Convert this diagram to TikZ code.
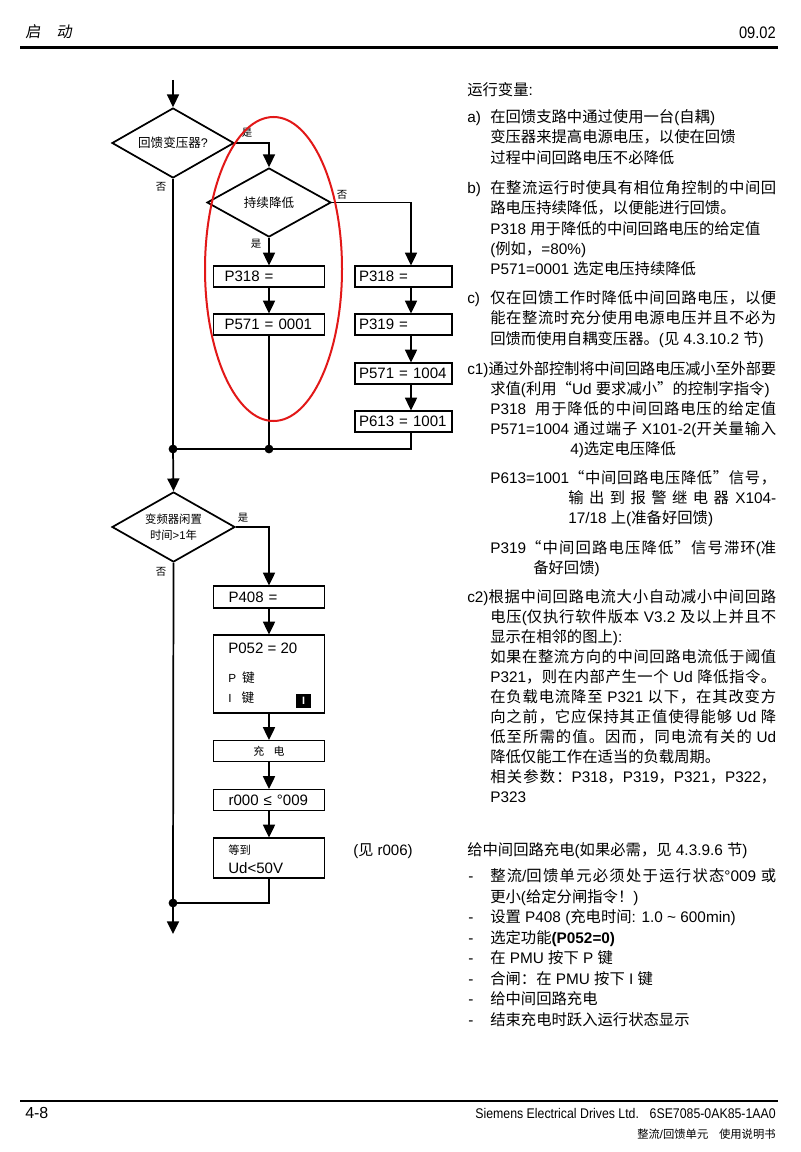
\documentclass[tikz,border=0pt]{standalone}
\usepackage{fontspec}
\setmainfont{Liberation Sans}
\newfontfamily\cjkfont{Noto Sans CJK SC}
\newfontfamily\cjkslantfont[FakeSlant=0.15]{Noto Sans CJK SC}
\newfontfamily\narrowfont[FakeStretch=0.88]{Liberation Sans}
\usetikzlibrary{arrows.meta,shapes.geometric}
\definecolor{ellred}{RGB}{226,24,24}

% automatic switching between Latin and CJK fonts
\newcommand\latinfont{\rmfamily}
\newcommand\cjkglue{\hskip 0pt plus 4pt minus 0.6pt\relax}
\XeTeXinterchartokenstate=1
\chardef\cjkcls=7
\newcount\cjkcnt
\cjkcnt=0
\loop\ifnum\cjkcnt<"2E80 \XeTeXcharclass\cjkcnt=0 \advance\cjkcnt by 1 \repeat
\cjkcnt="2E80
\loop\ifnum\cjkcnt<"A000 \XeTeXcharclass\cjkcnt=\cjkcls \advance\cjkcnt by 1 \repeat
\cjkcnt="FF00
\loop\ifnum\cjkcnt<"FFF0 \XeTeXcharclass\cjkcnt=\cjkcls \advance\cjkcnt by 1 \repeat
\XeTeXcharclass"201C=\cjkcls
\XeTeXcharclass"201D=\cjkcls
\XeTeXinterchartoks 0 \cjkcls={\cjkfont}
\XeTeXinterchartoks 4095 \cjkcls={\cjkfont}
\XeTeXinterchartoks \cjkcls 0={\latinfont}
\XeTeXinterchartoks \cjkcls 4095={\latinfont}
\XeTeXinterchartoks \cjkcls \cjkcls={\cjkglue}

\newcount\tcnt
\newcommand\rtxt[3]{\global\advance\tcnt by 1 \node[txt] (t\the\tcnt) at (#1,#2) {#3};}
\newcommand\rjus[3]{\global\advance\tcnt by 1 \node[txt] (t\the\tcnt) at (#1,#2) {\makebox[\dimexpr 0.75pt*(776-#1)\relax][s]{#3}};}

\begin{document}
\begin{tikzpicture}[x=0.75pt,y=-0.75pt,
  conn/.style={line width=1.3pt},
  arr/.style={line width=1.3pt,-{Triangle[length=9.5pt,width=9pt]}},
  pbox/.style={draw,line width=0.9pt,inner ysep=0pt,align=left,minimum height=15.75pt,font=\fontsize{11.3pt}{13pt}\selectfont},
  lbox/.style={pbox,text width=66.75pt,inner xsep=8.25pt},
  rbox/.style={pbox,text width=66.75pt,inner xsep=3pt},
  dbox/.style={pbox,text width=60.75pt,inner xsep=11.25pt},
  ebox/.style={draw,line width=0.9pt,minimum width=83.25pt,inner sep=0pt},
  dia/.style={draw,diamond,line width=1.3pt,inner sep=0pt,aspect=1.74,align=center},
  yn/.style={inner sep=0pt,font=\fontsize{7.8pt}{8pt}\selectfont},
  txt/.style={inner sep=0pt,anchor=base west,font=\fontsize{11.5pt}{13pt}\selectfont},
  dot/.style={fill=black},
]
\fill[white] (0,0) rectangle (800,1152);
\useasboundingbox (0,0) rectangle (800,1152);

% header
\node[anchor=base west,inner sep=0pt,font=\fontsize{11.5pt}{12pt}\selectfont] (hdl) at (25,38) {\let\cjkfont\cjkslantfont 启\hspace{12pt}动};
\node[anchor=base east,inner sep=0pt,font=\narrowfont\fontsize{12.5pt}{13pt}\selectfont] (hdr) at (776,38.5) {09.02};
\draw[line width=2pt] (20,47.5) -- (778,47.5);

% flowchart
\coordinate (start) at (173,80);
\node[dia,minimum width=91.5pt,minimum height=52.5pt,font=\fontsize{9.4pt}{11pt}\selectfont] (d1) at (173,143) {回馈变压器?};
\node[dia,minimum width=93pt,minimum height=51.75pt,font=\fontsize{9.4pt}{11pt}\selectfont] (d2) at (269,202.5) {持续降低};
\node[lbox] (lb1) at (269,276.5) {P318 =};
\node[lbox] (lb2) at (269,324.5) {P571 = 0001};
\node[rbox] (rb1) at (403.5,276.5) {P318 =};
\node[rbox] (rb2) at (403.5,324.5) {P319 =};
\node[rbox] (rb3) at (403.5,373.5) {P571 = 1004};
\node[rbox] (rb4) at (403.5,421.5) {P613 = 1001};
\coordinate (rx) at (411,0);
\coordinate (j1) at (173,449);
\coordinate (j2) at (269,449);

\draw[arr] (start) -- (d1.north);
\draw[arr] (d1.east) -| (d2.north);
\draw[arr] (d2.east) -| (rx |- rb1.north);
\draw[arr] (d2.south) -- (lb1.north);
\draw[arr] (lb1.south) -- (lb2.north);
\draw[arr] (rx |- rb1.south) -- (rx |- rb2.north);
\draw[arr] (rx |- rb2.south) -- (rx |- rb3.north);
\draw[arr] (rx |- rb3.south) -- (rx |- rb4.north);
\draw[conn] (rx |- rb4.south) |- (j1);
\draw[conn] (lb2.south) -- (j2);
\draw[conn] (d1.south) -- (j1);

\node[yn] (y1) at (247,133) {是};
\node[yn] (n1) at (161,187) {否};
\node[yn] (n2) at (342,195) {否};
\node[yn] (y2) at (256,244) {是};

\node[dia,minimum width=92.25pt,minimum height=52.5pt,font=\fontsize{8.5pt}{12pt}\selectfont] (d3) at (173.5,527) {变频器闲置\\时间>1年};
\draw[arr] (j1) -- (d3.north);
\node[yn] (y3) at (243,518) {是};
\node[yn] (n3) at (161,572) {否};

\node[dbox,minimum height=16.5pt] (p408) at (269,597) {P408 =};
\node[ebox,minimum height=58.5pt] (p052) at (269,674) {};
\node[txt,font=\fontsize{11.3pt}{13pt}\selectfont] (p052t) at (228,653) {P052 = 20};
\node[txt,font=\fontsize{8.8pt}{10pt}\selectfont] (pkey) at (228,682) {P\hspace{4.5pt}{\fontsize{9.5pt}{10pt}\selectfont 键}};
\node[txt,font=\fontsize{8.8pt}{10pt}\selectfont] (ikeyt) at (228,702) {I\hspace{7.5pt}{\fontsize{9.5pt}{10pt}\selectfont 键}};
\node[fill=black,minimum width=11.25pt,minimum height=10.5pt,inner sep=0pt,text=white,font=\bfseries\fontsize{8pt}{8pt}\selectfont] (ikey) at (303.5,701) {I};
\node[pbox,minimum width=83.25pt,text width=83.25pt,inner xsep=0pt,align=center,font=\fontsize{8.2pt}{10pt}\selectfont] (chg) at (269,751) {充\hspace{7pt}电};
\node[dbox] (r000) at (269,800) {r000 ≤ °009};
\node[ebox,minimum height=30pt] (wait) at (269,858) {};
\node[txt,font=\fontsize{8.5pt}{10pt}\selectfont] (waitt1) at (228,854) {等到};
\node[txt,font=\fontsize{11.3pt}{13pt}\selectfont] (waitt2) at (228,873.5) {Ud<50V};
\node[txt,font=\fontsize{11.3pt}{13pt}\selectfont] (see) at (353,855) {(见 r006)};

\coordinate (j3) at (173,903);
\coordinate (endc) at (173,934);
\draw[arr] (d3.east) -| (p408.north);
\draw[arr] (p408.south) -- (p052.north);
\draw[arr] (p052.south) -- (chg.north);
\draw[arr] (chg.south) -- (r000.north);
\draw[arr] (r000.south) -- (wait.north);
\draw[conn] (wait.south) |- (j3);
\draw[conn] (d3.south) -- (j3);
\draw[arr] (j3) -- (endc);

\fill[dot] (j1) circle [radius=3.3pt];
\fill[dot] (j2) circle [radius=3.3pt];
\fill[dot] (j3) circle [radius=3.3pt];

\draw[line width=1.5pt,ellred] (273.5,269) ellipse [x radius=68.5, y radius=152];

% right column text
\rtxt{467}{96}{运行变量:}
\rtxt{467}{123}{a)}
\rtxt{490}{123}{在回馈支路中通过使用一台(自耦)}
\rtxt{490}{143}{变压器来提高电源电压，以使在回馈}
\rtxt{490}{163}{过程中间回路电压不必降低}
\rtxt{467}{193}{b)}
\rjus{490}{193}{在整流运行时使具有相位角控制的中间回}
\rtxt{490}{213}{路电压持续降低，以便能进行回馈。}
\rtxt{490}{234}{P318 用于降低的中间回路电压的给定值}
\rtxt{490}{254}{(例如，=80\%)}
\rtxt{490}{274}{P571=0001 选定电压持续降低}
\rtxt{467}{303}{c)}
\rjus{490}{303}{仅在回馈工作时降低中间回路电压，以便}
\rjus{490}{323}{能在整流时充分使用电源电压并且不必为}
\rtxt{490}{344}{回馈而使用自耦变压器。(见 4.3.10.2 节)}
\rjus{467}{374}{c1)通过外部控制将中间回路电压减小至外部要}
\rtxt{490}{394}{求值(利用“Ud 要求减小”的控制字指令)}
\rjus{490}{414}{P318\ \ 用于降低的中间回路电压的给定值}
\rjus{490}{434}{P571=1004 通过端子 X101-2(开关量输入}
\rtxt{570}{454}{4)选定电压降低}
\rjus{490}{483}{P613=1001“中间回路电压降低”信号，}
\rjus{568}{503}{输出到报警继电器 X104-}
\rtxt{568}{523}{17/18 上(准备好回馈)}
\rjus{490}{553}{P319“中间回路电压降低”信号滞环(准}
\rtxt{533}{573}{备好回馈)}
\rjus{467}{602}{c2)根据中间回路电流大小自动减小中间回路}
\rjus{490}{622}{电压(仅执行软件版本 V3.2 及以上并且不}
\rtxt{490}{642}{显示在相邻的图上):}
\rjus{490}{662}{如果在整流方向的中间回路电流低于阈值}
\rjus{490}{682}{P321，则在内部产生一个 Ud 降低指令。}
\rjus{490}{702}{在负载电流降至 P321 以下，在其改变方}
\rjus{490}{722}{向之前，它应保持其正值使得能够 Ud 降}
\rjus{490}{742}{低至所需的值。因而，同电流有关的 Ud}
\rtxt{490}{762}{降低仅能工作在适当的负载周期。}
\rjus{490}{782}{相关参数：P318，P319，P321，P322，}
\rtxt{490}{802}{P323}
\rtxt{467}{855}{给中间回路充电(如果必需，见 4.3.9.6 节)}
\rtxt{468}{881}{-}
\rjus{490}{881}{整流/回馈单元必须处于运行状态°009 或}
\rtxt{490}{902}{更小(给定分闸指令！)}
\rtxt{468}{922}{-}
\rtxt{490}{922}{设置 P408 (充电时间: 1.0 {\char"7E} 600min)}
\rtxt{468}{943}{-}
\rtxt{490}{943}{选定功能\textbf{(P052=0)}}
\rtxt{468}{963}{-}
\rtxt{490}{963}{在 PMU 按下 P 键}
\rtxt{468}{984}{-}
\rtxt{490}{984}{合闸：在 PMU 按下 I 键}
\rtxt{468}{1004}{-}
\rtxt{490}{1004}{给中间回路充电}
\rtxt{468}{1025}{-}
\rtxt{490}{1025}{结束充电时跃入运行状态显示}

% footer
\draw[line width=2pt] (20,1101) -- (778,1101);
\node[anchor=base west,inner sep=0pt,font=\fontsize{12pt}{13pt}\selectfont] (pg) at (25,1118) {4-8};
\node[anchor=base east,inner sep=0pt,font=\narrowfont\fontsize{10.5pt}{12pt}\selectfont] (ft1) at (776,1118) {Siemens Electrical Drives Ltd.\hspace{8pt}6SE7085-0AK85-1AA0};
\node[anchor=base east,inner sep=0pt,font=\fontsize{8.5pt}{10pt}\selectfont] (ft2) at (776,1138) {整流/回馈单元\hspace{8pt}使用说明书};
\end{tikzpicture}
\end{document}
